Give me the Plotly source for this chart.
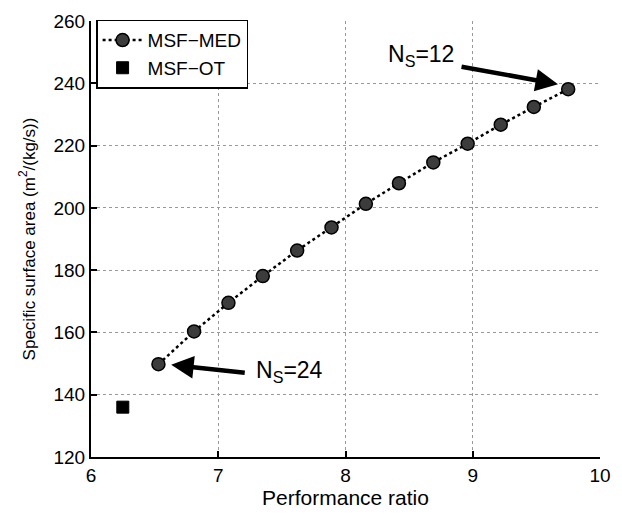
import plotly.graph_objects as go

pr_med = [6.53, 6.81, 7.08, 7.35, 7.62, 7.89, 8.16, 8.42, 8.69, 8.96, 9.22, 9.48, 9.75]
ssa_med = [149.8, 160.3, 169.5, 178.1, 186.3, 193.7, 201.3, 207.9, 214.6, 220.6, 226.7, 232.4, 238.1]
pr_ot = [6.25]
ssa_ot = [136.0]

x_ticks = [6, 7, 8, 9, 10]
y_ticks = [120, 140, 160, 180, 200, 220, 240, 260]

font = "Liberation Sans, Arial, sans-serif"

fig = go.Figure()
fig.add_trace(go.Scatter(
    x=pr_med, y=ssa_med, name="MSF\u2212MED", mode="lines+markers",
    line=dict(color="black", width=2.5, dash="dot"),
    marker=dict(symbol="circle", size=13, color="#3c3c3c", line=dict(color="black", width=1.5)),
))
fig.add_trace(go.Scatter(
    x=pr_ot, y=ssa_ot, name="MSF\u2212OT", mode="markers",
    marker=dict(symbol="square", size=12, color="black", line=dict(color="black", width=1)),
))

# arrows
fig.add_annotation(x=9.67, y=239.7, ax=8.9, ay=245.4, xref="x", yref="y", axref="x", ayref="y",
                   text="", showarrow=True, arrowhead=2, arrowsize=1.0, arrowwidth=4.5, arrowcolor="black")
fig.add_annotation(x=6.63, y=149.6, ax=7.22, ay=147.0, xref="x", yref="y", axref="x", ayref="y",
                   text="", showarrow=True, arrowhead=2, arrowsize=1.0, arrowwidth=4.5, arrowcolor="black")
fig.add_annotation(x=8.59, y=249.0, xref="x", yref="y", text="N<sub>S</sub>=12", showarrow=False,
                   font=dict(size=23, color="black", family=font))
fig.add_annotation(x=7.56, y=147.6, xref="x", yref="y", text="N<sub>S</sub>=24", showarrow=False,
                   font=dict(size=23, color="black", family=font))

fig.update_xaxes(range=[6, 10], tickvals=x_ticks, ticks="inside", ticklen=6, tickwidth=1.5, tickcolor="black",
                 showline=True, linecolor="black", linewidth=2, showgrid=True, gridcolor="#999999",
                 griddash="dot", gridwidth=1, zeroline=False,
                 tickfont=dict(size=19, color="black", family=font),
                 title=dict(text="Performance ratio", font=dict(size=21, color="black", family=font), standoff=6))
fig.update_yaxes(range=[120, 260], tickvals=y_ticks, ticks="inside", ticklen=6, tickwidth=1.5, tickcolor="black",
                 showline=True, linecolor="black", linewidth=2, showgrid=True, gridcolor="#999999",
                 griddash="dot", gridwidth=1, zeroline=False,
                 tickfont=dict(size=19, color="black", family=font),
                 title=dict(text="Specific surface area (m<sup>2</sup>/(kg/s))",
                            font=dict(size=17, color="black", family=font), standoff=14))

fig.update_layout(
    width=622, height=520,
    margin=dict(l=91, r=11, t=15, b=63),
    plot_bgcolor="white", paper_bgcolor="white",
    font=dict(family=font, color="black"),
    legend=dict(x=0.01, y=1.003, xanchor="left", yanchor="top",
                bgcolor="white", bordercolor="black", borderwidth=1.5,
                font=dict(size=19, color="black", family=font),
                tracegroupgap=0, itemwidth=40),
    showlegend=True,
)

fig.write_html("out.html", config={"displayModeBar": False},
               post_script="document.body.style.margin='0';document.body.style.overflow='hidden';")
